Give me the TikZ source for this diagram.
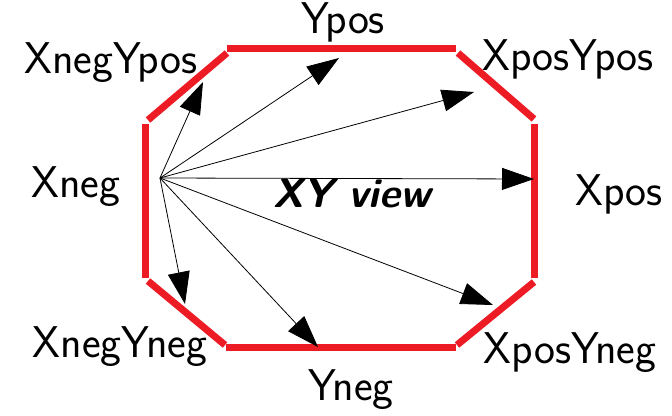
\documentclass[tikz,border=0pt]{standalone}
\usepackage{fontspec}
\usetikzlibrary{arrows.meta}
\definecolor{octred}{HTML}{ED1C24}
\begin{document}
\begin{tikzpicture}[x=1pt,y=-1pt,
  edge/.style={draw=octred,line width=7pt,line cap=butt},
  vec/.style={draw=black,line width=0.8pt,-{Triangle[length=32pt,width=22pt]}},
  lbl/.style={font=\sffamily\fontsize{44.5}{52}\selectfont,anchor=base,inner sep=0pt},
  title/.style={font=\sffamily\bfseries\itshape\fontsize{41}{48}\selectfont,anchor=base,inner sep=0pt}]
\useasboundingbox (0,0) rectangle (672,415);
% octagon segments
\coordinate (t1) at (227,48);  \coordinate (t2) at (456,48);
\coordinate (a1) at (458,53);  \coordinate (a2) at (534,119);
\coordinate (r1) at (534,124); \coordinate (r2) at (534,278);
\coordinate (b1) at (534,282); \coordinate (b2) at (457,345);
\coordinate (u1) at (456,347); \coordinate (u2) at (226,347);
\coordinate (c1) at (225,345); \coordinate (c2) at (148,281);
\coordinate (l1) at (145,278); \coordinate (l2) at (145,124);
\coordinate (d1) at (148,120); \coordinate (d2) at (227,53);
\draw[edge] (t1) -- (t2);
\draw[edge] (a1) -- (a2);
\draw[edge] (r1) -- (r2);
\draw[edge] (b1) -- (b2);
\draw[edge] (u1) -- (u2);
\draw[edge] (c1) -- (c2);
\draw[edge] (l1) -- (l2);
\draw[edge] (d1) -- (d2);
% vectors
\coordinate (o) at (160,178);
\coordinate (pNY) at (203,82);
\coordinate (pY) at (339,58);
\coordinate (pXY) at (474,92);
\coordinate (pX) at (534,179);
\coordinate (pXYn) at (493,305);
\coordinate (pYn) at (318,347);
\coordinate (pNYn) at (185,304);
\draw[vec] (o) -- (pNY);
\draw[vec] (o) -- (pY);
\draw[vec] (o) -- (pXY);
\draw[vec] (o) -- (pX);
\draw[vec] (o) -- (pXYn);
\draw[vec] (o) -- (pYn);
\draw[vec] (o) -- (pNYn);
% labels
\node[lbl] (ypos) at (343,33) {Ypos};
\node[lbl] (xnypos) at (111,73) {XnegYpos};
\node[lbl] (xpypos) at (568,70) {XposYpos};
\node[lbl] (xneg) at (76,197) {Xneg};
\node[lbl] (xpos) at (619,205) {Xpos};
\node[lbl] (xnyneg) at (120,357) {XnegYneg};
\node[lbl] (xpyneg) at (570,363) {XposYneg};
\node[lbl] (yneg) at (351,400) {Yneg};
\node[title] (view) at (352,207) {XY view};
\end{tikzpicture}
\end{document}
